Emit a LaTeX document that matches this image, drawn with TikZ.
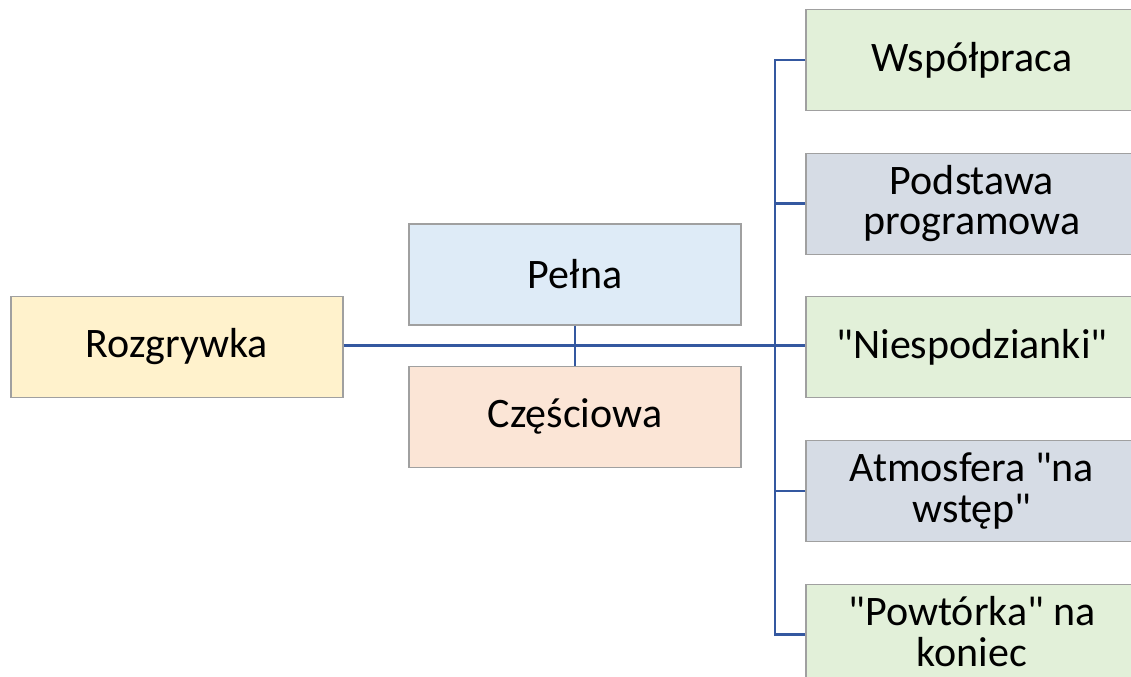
\documentclass[tikz,border=0pt]{standalone}
\usepackage{fontspec}
\setmainfont{Carlito}
\usetikzlibrary{positioning}

\definecolor{linia}{RGB}{52,88,160}
\definecolor{ramka}{RGB}{160,160,160}
\definecolor{zolty}{RGB}{255,242,204}
\definecolor{niebieski}{RGB}{222,235,247}
\definecolor{rozowy}{RGB}{251,229,214}
\definecolor{zielony}{RGB}{226,240,217}
\definecolor{szary}{RGB}{214,220,229}

\newcommand{\cdz}{\textquotedbl}

\tikzset{
  box/.style={draw=ramka, line width=0.8pt, rectangle, minimum width=249pt, minimum height=75.75pt,
    align=center, font=\fontsize{31.5}{30.5}\selectfont, inner sep=2pt},
  glowna/.style={draw=linia, line width=2.4pt},
  galaz/.style={draw=linia, line width=1.9pt}
}

\begin{document}
\begin{tikzpicture}[x=0.75pt, y=-0.75pt]
    \useasboundingbox (0,0) rectangle (1131,677);
    \begin{scope}
    \clip (0,0) rectangle (1131,677);

    \node[box, fill=zolty] (rozg) at (177,347) {Rozgrywka};

    \node[box, fill=niebieski] (pelna) at (575,274.5) {Pełna};
    \node[box, fill=rozowy] (czesc) [below=30pt of pelna] {Częściowa};

    \node[box, fill=zielony] (wsp) at (972,60) {Współpraca};
    \node[box, fill=szary] (podst) [below=31.2pt of wsp] {Podstawa\\programowa};
    \node[box, fill=zielony] (niesp) [below=31.2pt of podst] {\cdz Niespodzianki\cdz};
    \node[box, fill=szary] (atm) [below=31.2pt of niesp] {Atmosfera \cdz na\\wstęp\cdz};
    \node[box, fill=zielony] (powt) [below=31.2pt of atm] {\cdz Powtórka\cdz{} na\\koniec\vphantom{p}};

    \coordinate (pien) at (775,345.5);

    % polaczenia
    \draw[glowna] (pien -| rozg.east) -- (pien -| niesp.west);
    \draw[galaz] (pelna) -- (czesc);
    \draw[galaz] (wsp.west) -| (pien) |- (powt.west);
    \draw[galaz] (podst.west) -- (podst.west -| pien);
    \draw[galaz] (atm.west) -- (atm.west -| pien);
    \end{scope}
\end{tikzpicture}
\end{document}
